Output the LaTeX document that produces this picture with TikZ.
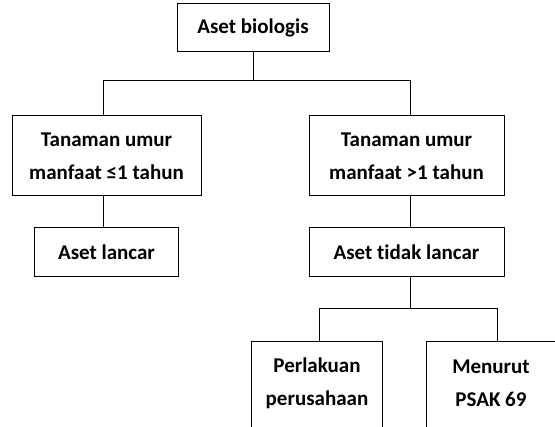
\documentclass[tikz,border=0pt]{standalone}
\usepackage{fontspec}
\setmainfont{Carlito}[Ligatures=NoCommon]
\usetikzlibrary{positioning}

\tikzset{
  box/.style={draw, line width=1pt, inner sep=0pt, align=center,
    font=\bfseries\fontsize{21}{33}\selectfont},
  openbox/.style={box, draw=none, minimum height=82pt},
}

\begin{document}
\begin{tikzpicture}[x=1pt, y=-1pt, node distance=2cm, on grid]
  \clip (0,0) rectangle (555,427);

  \node[box, minimum width=152pt, minimum height=48pt] (Aset) at (253,28) {Aset biologis};
  \node[box, minimum width=189pt, minimum height=80pt, below left=128pt and 146.5pt of Aset] (Pendek) {Tanaman umur\\manfaat ≤1 tahun};
  \node[box, minimum width=195pt, minimum height=80pt, right=300pt of Pendek] (Panjang) {Tanaman umur\\manfaat >1 tahun};
  \node[box, minimum width=144pt, minimum height=49pt, below=96.5pt of Pendek] (Lancar) {Aset lancar};
  \node[box, minimum width=195pt, minimum height=49pt, below=96.5pt of Panjang] (TidakLancar) {Aset tidak lancar};
  \node[openbox, minimum width=130pt, below left=130.5pt and 89.5pt of TidakLancar] (Perlakuan) {Perlakuan\\perusahaan};
  \node[openbox, minimum width=128pt, right=174pt of Perlakuan] (Menurut) {Menurut\\PSAK 69};

  % boxes running off the page
  \draw[line width=1pt] ([yshift=-30pt]Perlakuan.south west) -- (Perlakuan.north west)
    -- (Perlakuan.north east) -- ([yshift=-30pt]Perlakuan.south east);
  \draw[line width=1pt] ([yshift=-30pt]Menurut.south west) -- (Menurut.north west)
    -- ([xshift=40pt]Menurut.north east);

  % connectors
  \draw[line width=1pt] (Aset.south) -- ++(0,28) coordinate (j1);
  \draw[line width=1pt] ([xshift=-3.5pt]Pendek.north) |- (j1) -| ([xshift=3.5pt]Panjang.north);
  \draw[line width=1pt] ([xshift=-3.5pt]Pendek.south) -- ([xshift=-3.5pt]Lancar.north);
  \draw[line width=1pt] ([xshift=3.5pt]Panjang.south) -- ([xshift=3.5pt]TidakLancar.north);
  \draw[line width=1pt] ([xshift=3.5pt]TidakLancar.south) -- ++(0,31) coordinate (j2);
  \draw[line width=1pt] ([xshift=2pt]Perlakuan.north) |- (j2) -| ([xshift=6pt]Menurut.north);
\end{tikzpicture}
\end{document}
